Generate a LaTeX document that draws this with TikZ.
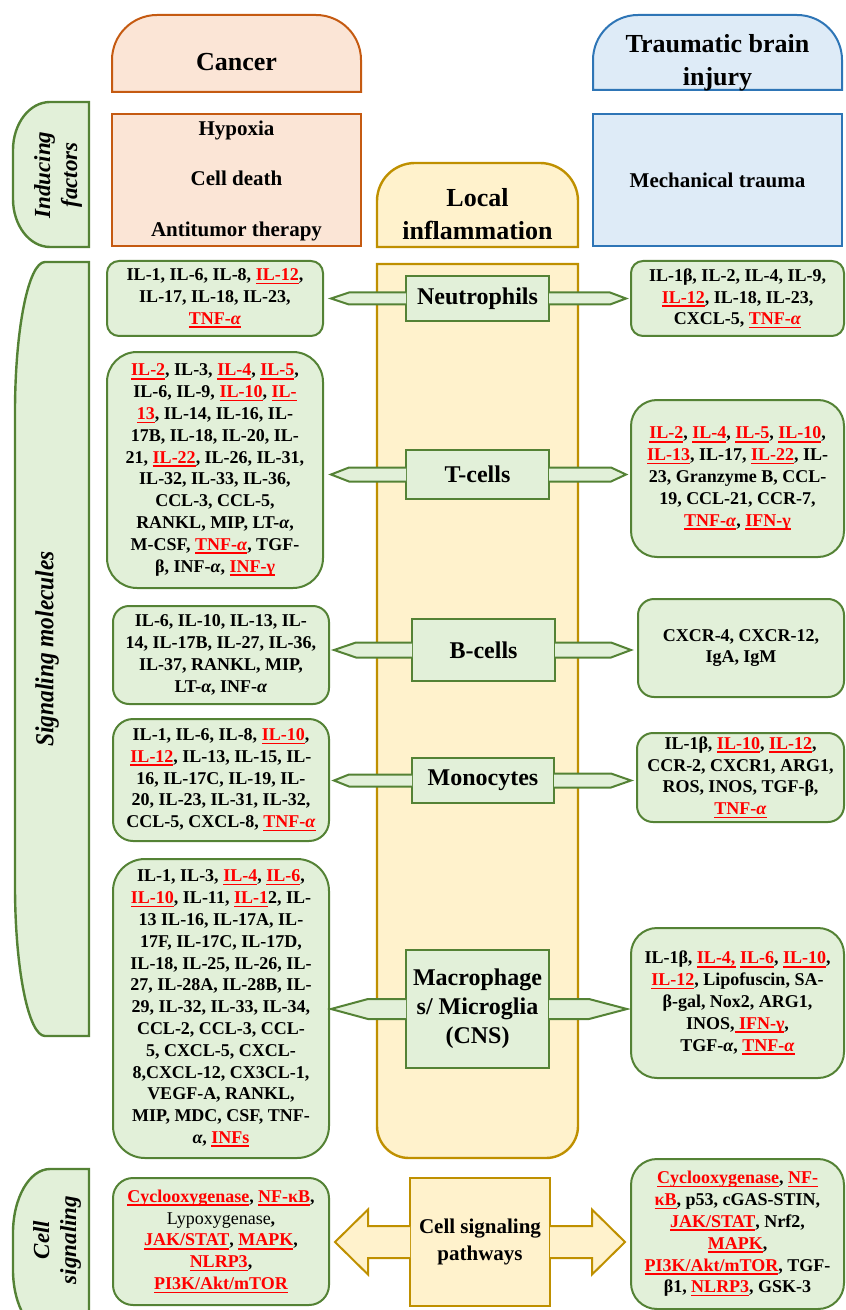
\documentclass[tikz,border=0pt]{standalone}
\usepackage{fontspec}
\setmainfont{Liberation Serif}
\usepackage{graphicx}
\usepackage{tikz}
\usetikzlibrary{calc}
\definecolor{cancerfill}{HTML}{FBE5D6}
\definecolor{cancerline}{HTML}{C55A11}
\definecolor{tbifill}{HTML}{DEEBF7}
\definecolor{tbiline}{HTML}{2E75B6}
\definecolor{locfill}{HTML}{FFF2CC}
\definecolor{locline}{HTML}{BF9000}
\definecolor{grnbg}{HTML}{E2F0D9}
\definecolor{grnline}{HTML}{548235}
\definecolor{hlred}{HTML}{FF0000}
\newlength\hlwd
\newcommand\hl[1]{\settowidth\hlwd{#1}\textcolor{hlred}{\rlap{\rule[-1.8pt]{\hlwd}{0.8pt}}#1}}
\newcommand\ga{\textit{α}}
\newcommand\molfont{\fontsize{9}{10.9}\selectfont\bfseries}
\newcommand\cellfont{\fontsize{12}{14.5}\selectfont\bfseries}
\newcommand\hdrfont{\fontsize{13}{16.4}\selectfont\bfseries}
\newcommand\causefont{\fontsize{10.5}{25.2}\selectfont\bfseries}
\newcommand\tabfont{\fontsize{11.5}{13.5}\selectfont\bfseries\itshape}
\tikzset{
  hdrcancer/.style={draw=cancerline,fill=cancerfill,line width=1pt},
  hdrtbi/.style={draw=tbiline,fill=tbifill,line width=1pt},
  hdrlocal/.style={draw=locline,fill=locfill,line width=1.2pt},
  dims/.style 2 args={minimum width=#1*0.5pt,minimum height=#2*0.5pt},
  cause/.style={rectangle,line width=1pt,align=center,font=\causefont,inner sep=0pt},
  molcard/.style={draw=grnline,fill=grnbg,line width=1pt,rounded corners=#1,
                  align=center,font=\molfont,inner sep=0pt},
  molcard/.default=8pt,
  cellcard/.style={draw=grnline,fill=grnbg,line width=1pt,align=center,
                   font=\cellfont,inner sep=0pt},
  tab/.style={draw=grnline,fill=grnbg,line width=1.2pt},
  arm/.style={draw=grnline,fill=grnbg,line width=1pt},
  bigarm/.style={draw=locline,fill=locfill,line width=1pt}
}

\begin{document}
\begin{tikzpicture}[x=0.5pt,y=-0.5pt]
  \path[use as bounding box] (0,0) rectangle (845,1310);

  % column headers
  \draw[hdrcancer] (112,92) -- (112,60) arc (180:270:45) -- (316,15) arc (270:360:45) -- (361,92) -- cycle;
  \node[font=\hdrfont] (cancer) at (236.5,62) {Cancer};
  \draw[hdrtbi] (593,90) -- (593,60) arc (180:270:45) -- (797,15) arc (270:360:45) -- (842,90) -- cycle;
  \node[font=\hdrfont,align=center] (tbi) at (717.5,63) {Traumatic brain\\injury};
  \draw[hdrlocal] (377,247) -- (377,201) arc (180:270:38) -- (540,163) arc (270:360:38) -- (578,247) -- cycle;
  \node[font=\hdrfont,align=center] (local) at (477.5,214) {Local\\inflammation};

  % inducing factors
  \node[cause,draw=cancerline,fill=cancerfill,dims={249}{132}] (canF) at (236.5,180)
    {\rule{0pt}{8pt}Hypoxia\\Cell death\\Antitumor therapy};
  \node[cause,draw=tbiline,fill=tbifill,dims={249}{132}] (tbiF) at (717.5,180)
    {Mechanical trauma};

  % side tabs
  \draw[tab] (89,102) -- (50,102) arc (270:180:37 and 48) -- (13,199) arc (180:90:37 and 48) -- (89,247) -- cycle;
  \node[font=\tabfont,rotate=90,align=center] (indT) at (58,175) {Inducing\\factors};
  \draw[tab] (89,262) -- (45,262) arc (270:180:30 and 150) -- (15,886) arc (180:90:30 and 150) -- (89,1036) -- cycle;
  \node[rotate=90] (sigT) at (47,649)
    {\scalebox{0.9}[1]{\fontsize{13}{15}\selectfont\bfseries\itshape Signaling molecules}};
  \begin{scope}
    \clip (0,0) rectangle (845,1310);
    \draw[tab] (89,1169) -- (50,1169) arc (270:180:37 and 64) -- (13,1270) arc (180:90:37 and 64) -- (89,1334) -- cycle;
  \end{scope}
  \node[font=\tabfont,rotate=90,align=center] (cellT) at (57,1240) {Cell\\signaling};

  % local inflammation column
  \draw[hdrlocal] (377,264) -- (377,1126) arc (180:90:32) -- (546,1158) arc (90:0:32) -- (578,264) -- cycle;
  \node[cellcard,dims={143}{45}] (neu) at (477.5,298.5) {Neutrophils};
  \node[cellcard,dims={143}{49}] (tce) at (477.5,474.5) {T-cells};
  \node[cellcard,dims={143}{62}] (bce) at (483.5,650) {B-cells};
  \node[cellcard,dims={142}{45}] (mon) at (483,780.5) {Monocytes};
  \node[cellcard,dims={143}{118}] (mac) at (477.5,1009) {Macrophage\\s/ Microglia\\(CNS)};
  \node[cellcard,draw=locline,fill=locfill,dims={140}{128},
        font=\fontsize{10.5}{13.5}\selectfont\bfseries] (csp) at (480,1242)
    {Cell signaling\\pathways};

  % cancer side
  \node[molcard=6pt,dims={216}{75}] (neuL) at (215,298.5)
    {IL-1, IL-6, IL-8, \hl{IL-12},\\IL-17, IL-18, IL-23,\\\hl{TNF-\ga}};
  \node[molcard=15pt,dims={216}{236}] (tceL) at (215,470)
    {\hl{IL-2}, IL-3, \hl{IL-4}, \hl{IL-5},\\IL-6, IL-9, \hl{IL-10}, \hl{IL-}\\\hl{13}, IL-14, IL-16, IL-\\17B, IL-18, IL-20, IL-\\21, \hl{IL-22}, IL-26, IL-31,\\IL-32, IL-33, IL-36,\\CCL-3, CCL-5,\\RANKL, MIP, LT-\ga,\\M-CSF, \hl{TNF-\ga}, TGF-\\β, INF-\ga, \hl{INF-γ}};
  \node[molcard=8pt,dims={216}{98}] (bceL) at (221,655)
    {IL-6, IL-10, IL-13, IL-\\14, IL-17B, IL-27, IL-36,\\IL-37, RANKL, MIP,\\LT-\ga, INF-\ga};
  \node[molcard=10pt,dims={216}{122}] (monL) at (221,780)
    {IL-1, IL-6, IL-8, \hl{IL-10},\\\hl{IL-12}, IL-13, IL-15, IL-\\16, IL-17C, IL-19, IL-\\20, IL-23, IL-31, IL-32,\\CCL-5, CXCL-8, \hl{TNF-\ga}};
  \node[molcard=16pt,dims={216}{299}] (macL) at (221,1008.5)
    {IL-1, IL-3, \hl{IL-4}, \hl{IL-6},\\\hl{IL-10}, IL-11, \hl{IL-1}2, IL-\\13 IL-16, IL-17A, IL-\\17F, IL-17C, IL-17D,\\IL-18, IL-25, IL-26, IL-\\27, IL-28A, IL-28B, IL-\\29, IL-32, IL-33, IL-34,\\CCL-2, CCL-3, CCL-\\5, CXCL-5, CXCL-\\8,CXCL-12, CX3CL-1,\\VEGF-A, RANKL,\\MIP, MDC, CSF, TNF-\\\ga, \hl{INFs}};
  \node[molcard=10pt,dims={216}{127}] (csL) at (221,1241.5)
    {\hl{Cyclooxygenase}, \hl{NF-κB},\\{\mdseries Lypoxygenase},\\\hl{JAK/STAT}, \hl{MAPK},\\\hl{NLRP3},\\\hl{PI3K/Akt/mTOR}};

  % traumatic brain injury side
  \node[molcard=6pt,dims={213}{75}] (neuR) at (737.5,298.5)
    {IL-1β, IL-2, IL-4, IL-9,\\\hl{IL-12}, IL-18, IL-23,\\CXCL-5, \hl{TNF-\ga}};
  \node[molcard=13pt,dims={213}{157}] (tceR) at (737.5,478.5)
    {\hl{IL-2}, \hl{IL-4}, \hl{IL-5}, \hl{IL-10},\\\hl{IL-13}, IL-17, \hl{IL-22}, IL-\\23, Granzyme B, CCL-\\19, CCL-21, CCR-7,\\\hl{TNF-\ga}, \hl{IFN-γ}};
  \node[molcard=8pt,dims={206}{98}] (bceR) at (741,648)
    {CXCR-4, CXCR-12,\\IgA, IgM};
  \node[molcard=8pt,dims={207}{89}] (monR) at (740.5,777.5)
    {IL-1β, \hl{IL-10}, \hl{IL-12},\\CCR-2, CXCR1, ARG1,\\ROS, INOS, TGF-β,\\\hl{TNF-\ga}};
  \node[molcard=13pt,dims={213}{150}] (macR) at (737.5,1003)
    {IL-1β, \hl{IL-4,} \hl{IL-6}, \hl{IL-10},\\\hl{IL-12}, Lipofuscin, SA-\\β-gal, Nox2, ARG1,\\INOS,\hl{ IFN-γ},\\TGF-\ga, \hl{TNF-\ga}};
  \node[molcard=13pt,dims={213}{150}] (csR) at (737.5,1234)
    {\hl{Cyclooxygenase}, \hl{NF-}\\\hl{κB}, p53, cGAS-STIN,\\\hl{JAK/STAT}, Nrf2,\\\hl{MAPK},\\\hl{PI3K/Akt/mTOR}, TGF-\\β1, \hl{NLRP3}, GSK-3};

  % pointed arms from the cell boxes
  \foreach \c/\s/\h/\t/\g in {neu.west/neuL.east/3pt/9pt/3.5pt, neu.east/neuR.west/3pt/8pt/2pt,
      tce.west/tceL.east/3.5pt/9pt/3.5pt, tce.east/tceR.west/3.5pt/7.5pt/2pt,
      bce.west/bceL.east/3.75pt/11pt/2pt, bce.east/bceR.west/3.75pt/10pt/3pt,
      mon.west/monL.east/3pt/7.5pt/2pt, mon.east/monR.west/3.5pt/10pt/2.5pt,
      mac.west/macL.east/5pt/18.5pt/0.5pt, mac.east/macR.west/5pt/19pt/1.5pt}{
    \path[arm] let \p1=(\c), \p2=(\s), \n1={sign(\x2-\x1)} in
      ({\x1-(\n1)*0.5pt},{\y1+\h}) -- ({\x2-(\n1)*(\g+\t)},{\y1+\h}) -- ({\x2-(\n1)*\g},\y1)
      -- ({\x2-(\n1)*(\g+\t)},{\y1-\h}) -- ({\x1-(\n1)*0.5pt},{\y1-\h});
  }
  % double arrow of the signalling pathways
  \foreach \c/\s in {csp.west/csL.east, csp.east/csR.west}{
    \path[bigarm] let \p1=(\c), \p2=(\s), \n1={sign(\x2-\x1)} in
      ({\x1-(\n1)*0.5pt},{\y1+8pt}) -- ({\x2-(\n1)*19pt},{\y1+8pt}) -- ({\x2-(\n1)*19pt},{\y1+16.25pt})
      -- ({\x2-(\n1)*2.5pt},\y1) -- ({\x2-(\n1)*19pt},{\y1-16.25pt}) -- ({\x2-(\n1)*19pt},{\y1-8pt})
      -- ({\x1-(\n1)*0.5pt},{\y1-8pt});
  }
\end{tikzpicture}
\end{document}
